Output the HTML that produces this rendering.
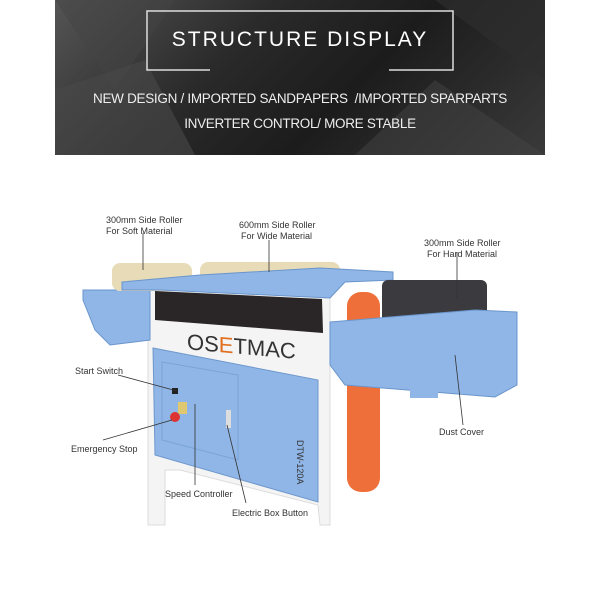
<!DOCTYPE html>
<html><head><meta charset="utf-8"><style>
body{margin:0;background:#fff;width:600px;height:600px;overflow:hidden;position:relative;font-family:"Liberation Sans",sans-serif}
.banner{position:absolute;left:55px;top:0;width:490px;height:155px;background:linear-gradient(135deg,#555 0%,#2a2a2a 35%,#1c1c1c 60%,#3a3a3a 100%)}
.t{position:absolute;white-space:nowrap}
</style></head><body>
<div class="banner">
<svg width="490" height="155" style="position:absolute;left:0;top:0">
<polygon points="0,0 120,0 60,90" fill="#444" opacity=".5"/>
<polygon points="0,90 90,60 140,155 0,155" fill="#4a4a4a" opacity=".6"/>
<polygon points="300,155 380,80 490,155" fill="#444" opacity=".5"/>
<polygon points="380,0 490,0 490,80" fill="#2e2e2e" opacity=".7"/>
<polyline points="155,70 92,70 92,11 398,11 398,70 334,70" fill="none" stroke="#ddd" stroke-width="1.5"/>
</svg>
<div class="t" style="left:0;width:490px;text-align:center;top:28px;color:#fff;font-size:21px;letter-spacing:2px">STRUCTURE DISPLAY</div>
<div class="t" style="left:0;width:490px;text-align:center;top:91px;color:#eee;font-size:13.5px;letter-spacing:-0.3px">NEW DESIGN / IMPORTED SANDPAPERS &nbsp;/IMPORTED SPARPARTS</div>
<div class="t" style="left:0;width:490px;text-align:center;top:116px;color:#eee;font-size:13.5px;letter-spacing:-0.3px">INVERTER CONTROL/ MORE STABLE</div>
</div>
<svg width="600" height="600" style="position:absolute;left:0;top:0">
<polygon points="148,290 330,290 330,525 320,525 318,505 180,470 165,470 165,525 148,525" fill="#f4f4f4" stroke="#ddd"/>
<polygon points="83,290 150,290 150,340 110,345 95,330 83,300" fill="#8fb6e6" stroke="#6a95cc"/>
<rect x="112" y="263" width="80" height="28" rx="8" fill="#e8dcb8"/>
<rect x="200" y="262" width="140" height="28" rx="8" fill="#e8dcb8"/>
<polygon points="122,282 200,275 320,268 393,272 393,280 345,282 330,298 160,290 122,290" fill="#8fb6e6" stroke="#6a95cc"/>
<polygon points="155,291 322,299 323,333 155,320" fill="#2a2627"/>
<polygon points="153,348 318,380 318,502 155,455" fill="#8fb6e6" stroke="#6e97cc"/>
<polygon points="162,362 238,375 238,460 162,440" fill="none" stroke="#7aa3d6"/>
<rect x="178" y="402" width="9" height="12" fill="#e0c870"/>
<rect x="226" y="410" width="5" height="18" fill="#ddd"/>
<circle cx="175" cy="417" r="5" fill="#d33"/>
<rect x="172" y="388" width="6" height="6" fill="#222"/>
<rect x="347" y="292" width="33" height="200" rx="14" fill="#ef6f3a"/>
<rect x="382" y="280" width="105" height="45" rx="6" fill="#3b3b3f"/>
<polygon points="330,322 475,310 517,312 517,385 495,397 345,385 330,365" fill="#8fb6e6" stroke="#6a95cc"/>
<rect x="410" y="377" width="28" height="21" fill="#8fb6e6"/>
<g stroke="#333" stroke-width="0.8">
<line x1="143" y1="233" x2="143" y2="270"/>
<line x1="269" y1="240" x2="269" y2="272"/>
<line x1="457" y1="252" x2="457" y2="298"/>
<line x1="118" y1="375" x2="177" y2="391"/>
<line x1="103" y1="440" x2="172" y2="420"/>
<line x1="195" y1="404" x2="195" y2="485"/>
<line x1="227" y1="425" x2="246" y2="503"/>
<line x1="455" y1="355" x2="463" y2="425"/>
</g>
</svg>
<div class="t" style="left:187px;top:334px;font-size:22px;color:#333;letter-spacing:0px;transform:skewY(5deg)">OS<span style="color:#e07020">E</span>TMAC</div>
<div class="t" style="left:305px;top:440px;font-size:9px;color:#333;transform:rotate(90deg);transform-origin:left top">DTW-120A</div>
<div style="font-size:9px;color:#333">
<div class="t" style="left:106px;top:215px">300mm Side Roller</div>
<div class="t" style="left:106px;top:226px">For Soft Material</div>
<div class="t" style="left:239px;top:220px">600mm Side Roller</div>
<div class="t" style="left:241px;top:231px">For Wide Material</div>
<div class="t" style="left:424px;top:238px">300mm Side Roller</div>
<div class="t" style="left:427px;top:249px">For Hard Material</div>
<div class="t" style="left:75px;top:366px">Start Switch</div>
<div class="t" style="left:71px;top:444px">Emergency Stop</div>
<div class="t" style="left:165px;top:489px">Speed Controller</div>
<div class="t" style="left:232px;top:508px">Electric Box Button</div>
<div class="t" style="left:439px;top:427px">Dust Cover</div>
</div>
</body></html>
